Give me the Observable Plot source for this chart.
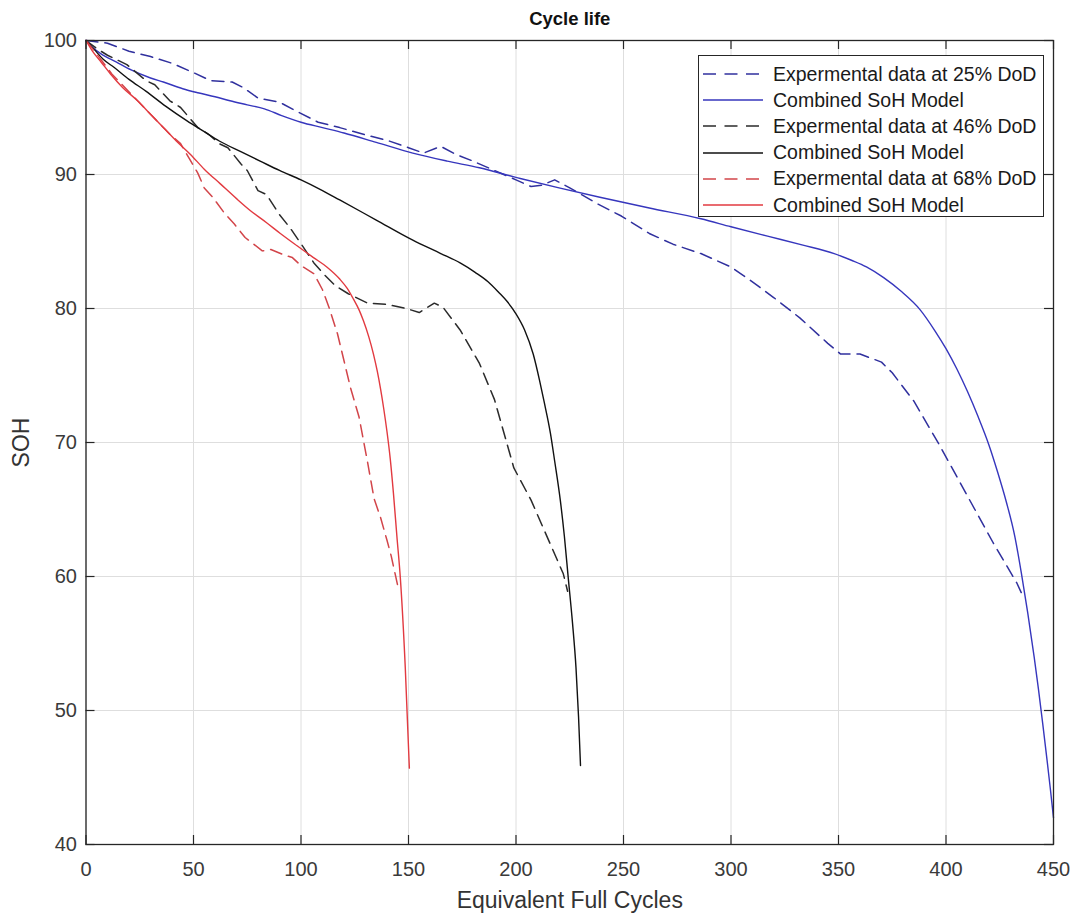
<!DOCTYPE html>
<html>
<head>
<meta charset="utf-8">
<script src="https://cdn.jsdelivr.net/npm/d3@7"></script>
<script src="https://cdn.jsdelivr.net/npm/@observablehq/plot@0.6"></script>
<style>
  html, body { margin: 0; padding: 0; background: #fff; }
  #wrap { position: relative; width: 1076px; height: 916px; font-family: "Liberation Sans", Arial, sans-serif; }
  #legend { position: absolute; left: 698px; top: 55px; width: 346px; height: 162px; border: 1px solid #262626; background: #fff; box-sizing: border-box; padding-top: 5px; }
  .row { display: flex; align-items: center; height: 26.2px; }
  .row svg { margin-left: 4px; margin-right: 10px; }
  .row span { font-size: 19.5px; color: #1a1a1a; white-space: nowrap; }
</style>
</head>
<body>
<div id="wrap"></div>
<script>
// ---- data ----
const exp25X = [0,10,20,30,40,50,58,68,73,80,90,97,108,118,129,141,150,157,165,172,180,190,200,207,212,218,225,238,249,262,273,286,300,309,320,332,345,351,360,370,375,385,397,410,422,433,435];
const exp25Y = [100,99.8,99.2,98.8,98.3,97.6,97.0,96.9,96.5,95.7,95.4,94.8,93.9,93.5,93.0,92.5,92.0,91.6,92.1,91.5,91.0,90.3,89.6,89.1,89.2,89.6,89.0,87.8,86.9,85.6,84.8,84.1,83.1,82.1,80.8,79.3,77.4,76.6,76.6,76.0,75.2,73.1,69.8,66.0,62.5,59.5,58.8];

const mod25X = [0,3,7,14,21,30,36,45,52,60,67,75,83,91,100,110,120,135,152,168,183,202,220,239,262,286,300,317,333,348,356,363,371,379,388,395,400,405,410,415,420,424,428,432,435,438,441,443,445,447,448.5,450];
const mod25Y = [100,99.5,99.0,98.4,97.8,97.2,96.9,96.4,96.1,95.8,95.5,95.2,94.9,94.4,93.9,93.5,93.1,92.4,91.6,91.0,90.5,89.7,89.0,88.3,87.5,86.7,86.1,85.4,84.75,84.1,83.6,83.1,82.3,81.3,79.9,78.3,77.0,75.5,73.8,71.9,69.8,67.8,65.6,63.0,60.3,57.3,54.0,51.6,49.0,46.3,44.2,42.0];

const exp46X = [0,5,10,19,28,32,39,44,52,57,62,66,72,75,80,84,90,95,101,106,111,116,122,131,140,149,155,162,166,174,183,190,199,207,216,222,224];
const exp46Y = [100,99.4,98.9,98.2,97.0,96.7,95.5,95.0,93.5,93.0,92.3,92.0,90.8,90.3,88.8,88.5,87.0,86.0,84.6,83.4,82.5,81.7,81.1,80.4,80.3,80.0,79.7,80.4,80.1,78.4,75.9,73.2,68.1,65.7,62.4,60.2,58.9];

const mod46X = [0,4,8,13,20,28,37,47,55,62,72,81,90,100,110,118,135,152,165,174,181,187,192,196,200,204,208,211,213,216,218,220.6,222.5,224.3,226.3,227.9,229.1,230];
const mod46Y = [100,99.3,98.6,98.0,97.1,96.2,95.1,94.0,93.2,92.5,91.7,91.0,90.3,89.6,88.8,88.1,86.6,85.1,84.1,83.4,82.7,82.0,81.2,80.5,79.6,78.4,76.6,74.6,73.1,70.7,68.6,65.7,63.0,59.9,56.5,53.2,49.5,45.9];

const exp68X = [0,5,12,21,27,33,39,44,48,52,55,59,64,69,74,78,82,86,92,96,100,106,110,113,117,120,123,127,131,134,137,140,142,145];
const exp68Y = [100,99.0,97.5,96.0,95.0,94.0,93.0,92.3,91.2,90.1,89.0,88.3,87.2,86.3,85.3,84.8,84.3,84.4,84.0,83.8,83.2,82.6,81.4,80.1,78.1,76.1,74.1,71.9,68.5,65.8,64.4,62.7,61.5,59.3];

const mod68X = [0,3,7,11.4,17,24,30,36,42,48.6,55,62.5,70,76.5,84,90.4,98,105.8,112,118,121.5,124.4,127,129,131.5,133.7,135.5,137,138.5,140,141.5,143,144.6,146.2,148.5,150.4];
const mod68Y = [100,99.2,98.4,97.5,96.5,95.5,94.5,93.5,92.5,91.5,90.4,89.3,88.2,87.3,86.4,85.6,84.7,83.8,83.1,82.2,81.5,80.7,79.9,79.1,77.9,76.6,75.3,74.0,72.5,70.8,68.8,66.2,63.0,59.9,53.2,45.7];

const xTicks = [0,50,100,150,200,250,300,350,400,450];
const yTicks = [40,50,60,70,80,90,100];

const seriesNames = [
  "Expermental data at 25% DoD", "Combined SoH Model",
  "Expermental data at 46% DoD", "Combined SoH Model",
  "Expermental data at 68% DoD", "Combined SoH Model"
];
const seriesColors = ["#30309e", "#3636bd", "#2b2b2b", "#111111", "#d2454a", "#e23a40"];
const seriesDashed = [true, false, true, false, true, false];
const seriesX = [exp25X, mod25X, exp46X, mod46X, exp68X, mod68X];
const seriesY = [exp25Y, mod25Y, exp46Y, mod46Y, exp68Y, mod68Y];

// ---- build ----
const W = 1076, H = 916;
const mL = 85.5, mR = 23, mT = 40, mB = 72;
const frameH = H - mT - mB, frameW = W - mL - mR;
const tickLen = 9;
const axisColor = "#262626";

const lineMarks = seriesX.map((xs, i) => {
  const data = xs.map((x, j) => ({x, y: seriesY[i][j]}));
  return Plot.line(data, {
    x: "x", y: "y",
    stroke: seriesColors[i],
    strokeWidth: seriesDashed[i] ? 1.5 : 1.4,
    strokeDasharray: seriesDashed[i] ? "12,7" : null,
    curve: seriesDashed[i] ? "linear" : "monotone-x"
  });
});

const chart = Plot.plot({
  width: W, height: H,
  marginLeft: mL, marginRight: mR, marginTop: mT, marginBottom: mB,
  style: {fontFamily: "'Liberation Sans', Arial, sans-serif", color: axisColor, background: "#fff"},
  x: {domain: [0, 450], ticks: xTicks},
  y: {domain: [40, 100], ticks: yTicks},
  marks: [
    Plot.gridX(xTicks, {stroke: "#dedede", strokeOpacity: 1, strokeWidth: 1}),
    Plot.gridY(yTicks, {stroke: "#dedede", strokeOpacity: 1, strokeWidth: 1}),
    ...lineMarks,
    // inward ticks on all four sides
    Plot.tickX(xTicks, {x: d => d, insetTop: frameH - tickLen, stroke: axisColor, strokeWidth: 1.2}),
    Plot.tickX(xTicks, {x: d => d, insetBottom: frameH - tickLen, stroke: axisColor, strokeWidth: 1.2}),
    Plot.tickY(yTicks, {y: d => d, insetRight: frameW - tickLen, stroke: axisColor, strokeWidth: 1.2}),
    Plot.tickY(yTicks, {y: d => d, insetLeft: frameW - tickLen, stroke: axisColor, strokeWidth: 1.2}),
    Plot.frame({stroke: axisColor, strokeWidth: 1.3}),
    Plot.axisX(xTicks, {tickSize: 0, tickPadding: 17, fontSize: 20, label: null, fill: "#3a3a3a"}),
    Plot.axisY(yTicks, {tickSize: 0, tickPadding: 9, fontSize: 20, label: null, fill: "#3a3a3a"}),
    Plot.text(["Cycle life"], {frameAnchor: "top", lineAnchor: "middle", dy: -21, fontSize: 18.5, fontWeight: "bold", fill: "#111"}),
    Plot.text(["Equivalent Full Cycles"], {frameAnchor: "bottom", lineAnchor: "middle", dy: 56, fontSize: 23, fill: "#333"}),
    Plot.text(["SOH"], {frameAnchor: "left", textAnchor: "middle", lineAnchor: "middle", dx: -64, rotate: -90, fontSize: 23, fill: "#333"})
  ]
});

const wrap = document.getElementById("wrap");
wrap.appendChild(chart);

// legend
const legend = document.createElement("div");
legend.id = "legend";
seriesNames.forEach((name, i) => {
  const row = document.createElement("div");
  row.className = "row";
  const ns = "http://www.w3.org/2000/svg";
  const svg = document.createElementNS(ns, "svg");
  svg.setAttribute("width", 60); svg.setAttribute("height", 10);
  const ln = document.createElementNS(ns, "line");
  ln.setAttribute("x1", 0); ln.setAttribute("x2", 60);
  ln.setAttribute("y1", 5); ln.setAttribute("y2", 5);
  ln.setAttribute("stroke", seriesColors[i]);
  ln.setAttribute("stroke-width", 1.5);
  if (seriesDashed[i]) ln.setAttribute("stroke-dasharray", "13,8.5");
  svg.appendChild(ln);
  const sp = document.createElement("span");
  sp.textContent = name;
  row.appendChild(svg); row.appendChild(sp);
  legend.appendChild(row);
});
wrap.appendChild(legend);
</script>
</body>
</html>
